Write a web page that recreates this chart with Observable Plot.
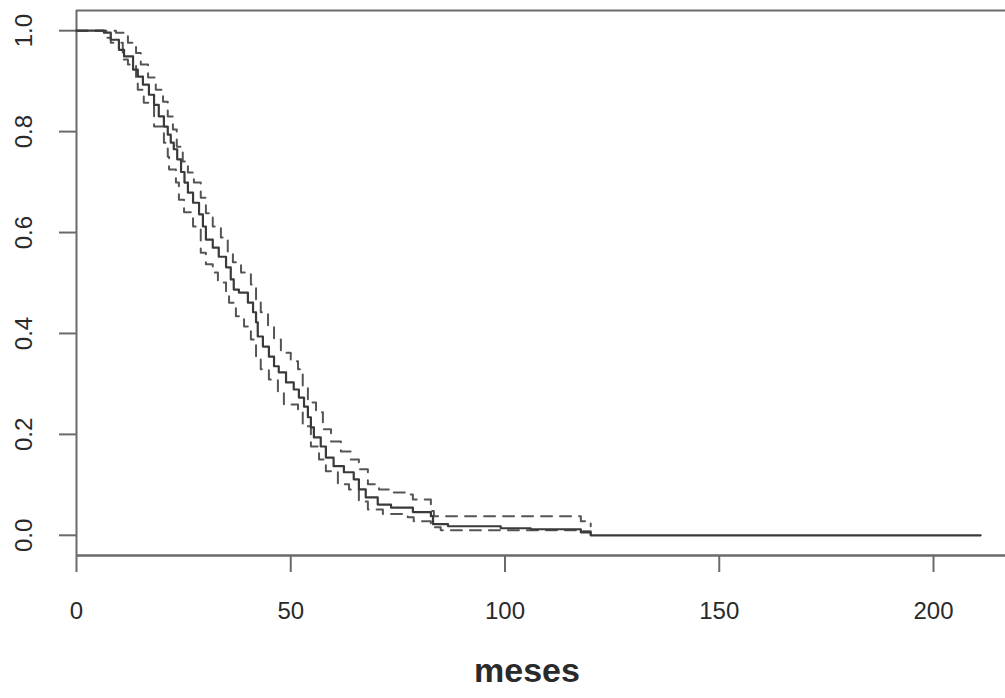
<!DOCTYPE html>
<html><head><meta charset="utf-8">
<script src="https://cdn.jsdelivr.net/npm/d3@7"></script>
<script src="https://cdn.jsdelivr.net/npm/@observablehq/plot@0.6"></script>
<style>body{margin:0;background:#fff;overflow:hidden}</style>
</head><body><div id="chart"></div>
<script>
// Kaplan-Meier estimate (solid) with confidence band (dashed)
const survTime  = [0, 6.4, 8.0, 9.9, 11.1, 13.2, 14.3, 15.5, 16.9, 18.1, 19.2, 20.4, 21.3, 22.0, 22.7, 23.5, 24.4, 25.2, 26.0, 27.2, 28.6, 29.5, 30.2, 31.8, 33.2, 34.9, 36.0, 36.7, 37.9, 40.0, 41.2, 41.9, 42.3, 43.5, 44.9, 46.1, 47.2, 48.9, 50.7, 51.9, 53.1, 54.0, 54.7, 55.4, 57.0, 58.2, 60.0, 62.4, 64.7, 65.9, 67.5, 70.3, 73.4, 78.5, 82.7, 83.2, 86.7, 99.0, 106, 117.7, 120, 211];
const survValue = [1.0, 0.996, 0.982, 0.962, 0.949, 0.923, 0.909, 0.893, 0.873, 0.853, 0.830, 0.810, 0.794, 0.778, 0.765, 0.745, 0.720, 0.699, 0.679, 0.659, 0.636, 0.612, 0.586, 0.570, 0.552, 0.531, 0.507, 0.487, 0.481, 0.461, 0.442, 0.422, 0.394, 0.374, 0.354, 0.335, 0.323, 0.303, 0.289, 0.273, 0.255, 0.234, 0.214, 0.194, 0.176, 0.154, 0.137, 0.125, 0.111, 0.091, 0.075, 0.061, 0.055, 0.046, 0.038, 0.022, 0.018, 0.014, 0.012, 0.006, 0, 0];

const upperTime  = [0, 6.4, 9.2, 12.0, 13.9, 15.0, 16.7, 18.5, 20.2, 21.3, 22.5, 23.4, 24.8, 26.0, 27.4, 29.0, 30.2, 31.8, 33.7, 35.3, 36.5, 38.4, 40.7, 41.9, 43.0, 44.7, 46.1, 47.7, 50.0, 51.7, 52.8, 54.0, 55.9, 57.5, 59.4, 61.7, 64.0, 65.9, 68.0, 70.6, 72.9, 78.0, 78.5, 82.7, 83.4, 117.7, 120.0];
const upperValue = [1.0, 1.0, 0.996, 0.976, 0.956, 0.933, 0.907, 0.883, 0.859, 0.830, 0.804, 0.770, 0.741, 0.719, 0.699, 0.669, 0.638, 0.612, 0.590, 0.562, 0.541, 0.521, 0.497, 0.467, 0.442, 0.414, 0.388, 0.362, 0.345, 0.329, 0.295, 0.263, 0.244, 0.210, 0.186, 0.166, 0.150, 0.131, 0.101, 0.091, 0.085, 0.081, 0.071, 0.048, 0.038, 0.028, 0.018];

const lowerTime  = [0, 6.4, 6.9, 8.0, 10.8, 12.0, 13.9, 14.3, 15.7, 18.1, 20.4, 21.3, 21.6, 23.2, 23.9, 25.1, 27.2, 29.0, 30.2, 31.8, 33.0, 34.9, 35.6, 37.2, 39.1, 40.7, 41.9, 43.0, 44.9, 47.0, 48.4, 51.7, 52.8, 54.7, 56.6, 58.2, 61.0, 63.6, 65.9, 68.0, 71.5, 77.3, 78.7, 82.7, 83.2, 85.0, 117.7, 120.0];
const lowerValue = [1.0, 1.0, 0.986, 0.976, 0.943, 0.933, 0.907, 0.883, 0.857, 0.810, 0.778, 0.750, 0.725, 0.699, 0.665, 0.640, 0.612, 0.560, 0.537, 0.521, 0.501, 0.483, 0.461, 0.434, 0.414, 0.388, 0.354, 0.329, 0.309, 0.283, 0.259, 0.244, 0.216, 0.176, 0.150, 0.127, 0.101, 0.091, 0.067, 0.051, 0.042, 0.036, 0.028, 0.022, 0.016, 0.010, 0.008, 0.0];

const xTicks = [0, 50, 100, 150, 200];
const yTicks = [0, 0.2, 0.4, 0.6, 0.8, 1.0];
const yTickLabels = ["0.0", "0.2", "0.4", "0.6", "0.8", "1.0"];
const xLabel = "meses";

const rows = (t, v) => t.map((d, i) => ({t: d, s: v[i]}));
const solid = rows(survTime, survValue);
const upper = rows(upperTime, upperValue);
const lower = rows(lowerTime, lowerValue);

const boxColor = "#6a6a6a";
const chart = Plot.plot({
  width: 1005, height: 698,
  marginLeft: 76, marginRight: 0, marginTop: 10, marginBottom: 143,
  style: {fontFamily: "'Liberation Sans', Arial, sans-serif", fontSize: "24px", color: "#2a2a2a", background: "#fff"},
  x: {domain: [0, 216.8]},
  y: {domain: [-0.04, 1.04]},
  marks: [
    Plot.ruleY([1.04], {stroke: boxColor, strokeWidth: 2}),
    Plot.ruleY([-0.04], {stroke: boxColor, strokeWidth: 2.5}),
    Plot.ruleX([0], {stroke: boxColor, strokeWidth: 2}),
    Plot.axisX({ticks: xTicks, tickSize: 17, tickPadding: 29, tickFormat: d => String(d), stroke: boxColor, strokeWidth: 2, fontSize: 24, label: null}),
    Plot.axisY({ticks: yTicks, tickSize: 17, tickFormat: () => "", stroke: boxColor, strokeWidth: 2, label: null}),
    Plot.text(yTicks, {y: d => d, text: (d, i) => yTickLabels[i], frameAnchor: "left", textAnchor: "middle", lineAnchor: "middle", dx: -52, rotate: -90, fontSize: 24}),
    Plot.line(upper, {x: "t", y: "s", curve: "step-after", stroke: "#555", strokeWidth: 2, strokeDasharray: "11,8"}),
    Plot.line(lower, {x: "t", y: "s", curve: "step-after", stroke: "#555", strokeWidth: 2, strokeDasharray: "11,8"}),
    Plot.line(solid, {x: "t", y: "s", curve: "step-after", stroke: "#3a3a3a", strokeWidth: 2.2}),
    Plot.text([xLabel], {text: d => d, frameAnchor: "bottom", dy: 126, dx: -14, fontWeight: "bold", fontSize: 34})
  ]
});
document.getElementById("chart").appendChild(chart);
</script>
</body></html>
